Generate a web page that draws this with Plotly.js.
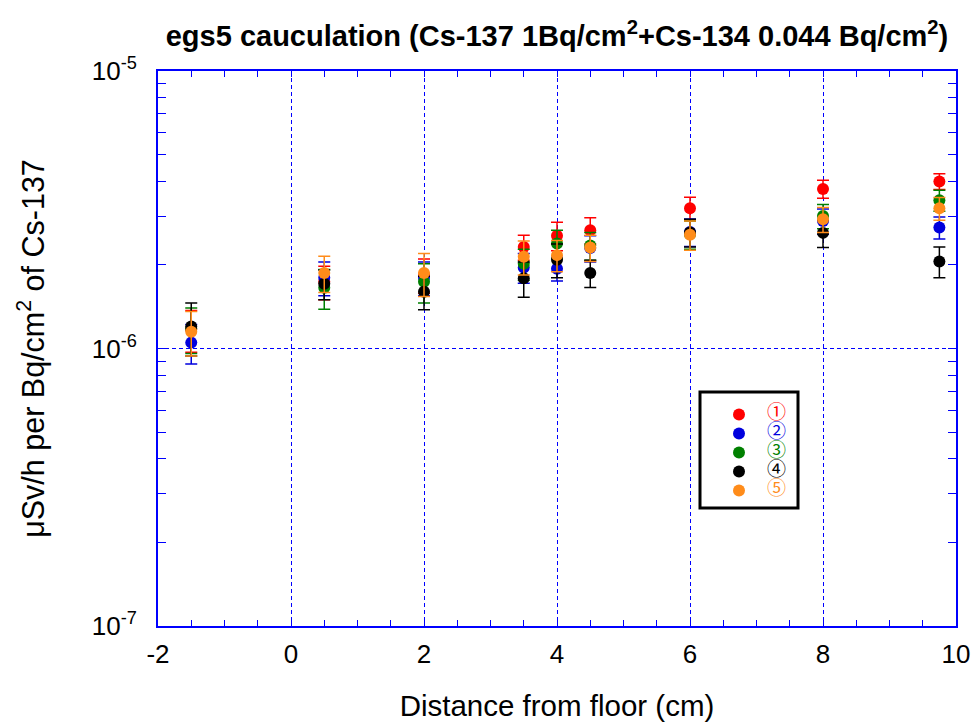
<!DOCTYPE html>
<html>
<head>
<meta charset="utf-8">
<script src="https://cdn.plot.ly/plotly-3.0.1.min.js"></script>
<style>html,body{margin:0;padding:0;background:#fff;}</style>
</head>
<body>
<div id="chart" style="width:974px;height:722px;"></div>
<script>
// Distance from floor (cm)
const distance = [-1.5, 0.5, 2, 3.5, 4, 4.5, 6, 8, 9.75];

// Series values (µSv/h per Bq/cm2 of Cs-137) and their error bars
const s1 = [1.17e-6, 1.74e-6, 1.84e-6, 2.32e-6, 2.55e-6, 2.67e-6, 3.20e-6, 3.76e-6, 4.00e-6];
const s1err = [0.20e-6, 0.24e-6, 0.26e-6, 0.24e-6, 0.30e-6, 0.29e-6, 0.31e-6, 0.28e-6, 0.26e-6];
const s2 = [1.05e-6, 1.80e-6, 1.80e-6, 1.96e-6, 1.94e-6, 2.30e-6, 2.63e-6, 2.88e-6, 2.73e-6];
const s2err = [0.17e-6, 0.25e-6, 0.25e-6, 0.24e-6, 0.19e-6, 0.25e-6, 0.30e-6, 0.30e-6, 0.25e-6];
const s3 = [1.18e-6, 1.655e-6, 1.74e-6, 2.02e-6, 2.39e-6, 2.35e-6, 2.58e-6, 3.00e-6, 3.42e-6];
const s3err = [0.22e-6, 0.27e-6, 0.28e-6, 0.26e-6, 0.28e-6, 0.27e-6, 0.30e-6, 0.30e-6, 0.30e-6];
const s4 = [1.20e-6, 1.71e-6, 1.60e-6, 1.79e-6, 2.09e-6, 1.87e-6, 2.62e-6, 2.61e-6, 2.06e-6];
const s4err = [0.26e-6, 0.21e-6, 0.22e-6, 0.26e-6, 0.29e-6, 0.21e-6, 0.30e-6, 0.30e-6, 0.26e-6];
const s5 = [1.15e-6, 1.87e-6, 1.87e-6, 2.14e-6, 2.17e-6, 2.31e-6, 2.57e-6, 2.92e-6, 3.20e-6];
const s5err = [0.21e-6, 0.28e-6, 0.33e-6, 0.30e-6, 0.28e-6, 0.25e-6, 0.31e-6, 0.30e-6, 0.30e-6];

const seriesNames = ['①', '②', '③', '④', '⑤'];
const seriesColors = ['#ff0000', '#0000dd', '#008000', '#000000', '#ff8c1a'];

// Axis tick labels
const xTickVals = [-2, 0, 2, 4, 6, 8, 10];
const xTickText = ['-2', '0', '2', '4', '6', '8', '10'];
const yTickVals = [1e-7, 1e-6, 1e-5];
const yTickText = ['10<sup>-7</sup>', '10<sup>-6</sup>', '10<sup>-5</sup>'];
const yMinorVals = [2e-7,3e-7,4e-7,5e-7,6e-7,7e-7,8e-7,9e-7,2e-6,3e-6,4e-6,5e-6,6e-6,7e-6,8e-6,9e-6];

const values = [s1, s2, s3, s4, s5];
const errors = [s1err, s2err, s3err, s4err, s5err];

const traces = values.map((v, i) => ({
  type: 'scatter',
  mode: 'markers',
  x: distance,
  y: v,
  name: '<span style="color:' + seriesColors[i] + ';font-size:19px">' + seriesNames[i] + '</span>',
  marker: {color: seriesColors[i], size: 12, symbol: 'circle'},
  error_y: {type: 'data', array: errors[i], visible: true, color: seriesColors[i], thickness: 1.5, width: 6}
}));

const frame = '#0000ff';
const L = 158, R = 18, T = 71, B = 96;
const PW = 974 - L - R, PH = 722 - T - B;

const layout = {
  width: 974, height: 722,
  margin: {l: L, r: R, t: T, b: B},
  paper_bgcolor: '#ffffff', plot_bgcolor: '#ffffff',
  font: {family: 'Liberation Sans, Arial, sans-serif', color: '#000'},
  title: {
    text: 'egs5 cauculation (Cs-137 1Bq/cm<sup>2</sup>+Cs-134 0.044 Bq/cm<sup>2</sup>)',
    font: {family: 'Liberation Sans, Arial, sans-serif', size: 29, weight: 'bold', color: '#000'},
    xref: 'paper', x: 0.5, xanchor: 'center',
    yref: 'container', y: 1 - 36/722, yanchor: 'middle'
  },
  xaxis: {
    range: [-2, 10], tickmode: 'array', tickvals: xTickVals, ticktext: xTickText,
    ticks: 'inside', ticklen: 6, tickcolor: frame, tickwidth: 1,
    showline: true, linecolor: frame, linewidth: 2, mirror: 'allticks',
    showgrid: true, gridcolor: frame, gridwidth: 1, griddash: '4px,3px',
    zeroline: false,
    tickfont: {size: 26, color: '#000'},
    ticklabelstandoff: 4,
    minor: {dtick: 0.5, tick0: 0, ticks: 'inside', ticklen: 6, tickcolor: frame, showgrid: false},
    title: {text: 'Distance from floor (cm)', font: {size: 29.5, color: '#000'}, standoff: 32}
  },
  yaxis: {
    type: 'log', range: [-7, -5],
    tickmode: 'array', tickvals: yTickVals, ticktext: yTickText,
    ticks: 'inside', ticklen: 8, tickcolor: frame, tickwidth: 1,
    showline: true, linecolor: frame, linewidth: 2, mirror: 'allticks',
    showgrid: true, gridcolor: frame, gridwidth: 1, griddash: '4px,3px',
    zeroline: false,
    tickfont: {size: 26, color: '#000'},
    ticklabelstandoff: 14,
    minor: {tickmode: 'array', tickvals: yMinorVals, ticks: 'inside', ticklen: 8, tickcolor: frame, showgrid: false},
    title: {text: 'μSv/h per Bq/cm<sup>2</sup> of Cs-137', font: {size: 30.5, color: '#000'}, standoff: 38}
  },
  showlegend: true,
  legend: {
    x: (711 - L) / PW, y: (722 - B - 400) / PH, xanchor: 'left', yanchor: 'top',
    bgcolor: 'rgba(0,0,0,0)', borderwidth: 0,
    font: {family: 'Liberation Sans, Noto Sans CJK JP, sans-serif', size: 12},
    itemwidth: 46, tracegroupgap: 0
  },
  shapes: [{
    type: 'rect', xref: 'paper', yref: 'paper',
    x0: (700 - L) / PW, x1: (798 - L) / PW,
    y0: (722 - B - 508) / PH, y1: (722 - B - 392) / PH,
    line: {color: '#000000', width: 3}, fillcolor: '#ffffff', layer: 'above'
  }]
};

Plotly.newPlot('chart', traces, layout, {displayModeBar: false, staticPlot: true});
</script>
</body>
</html>
